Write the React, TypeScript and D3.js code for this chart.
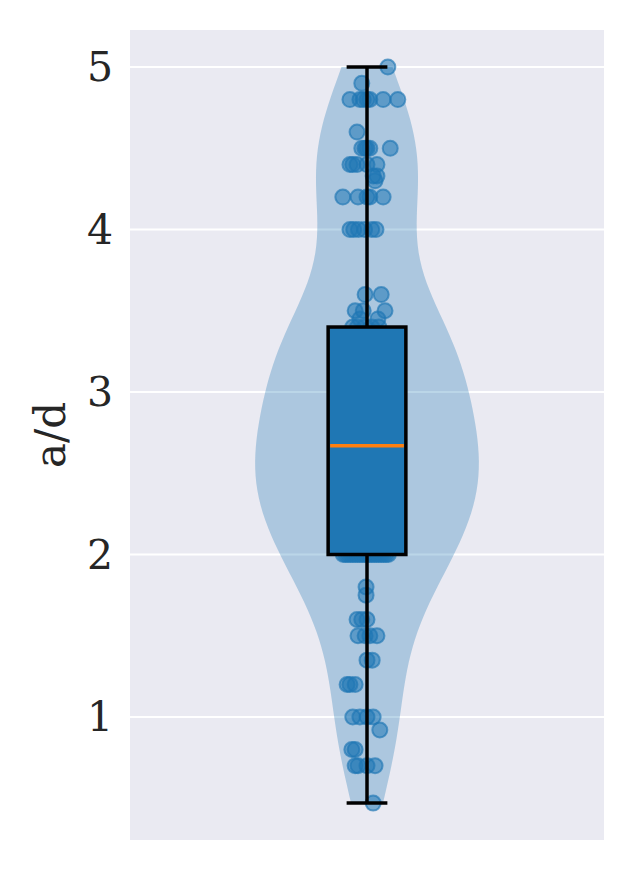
import React from 'react'
import * as d3 from 'd3'

// a/d values, grouped by level; each entry holds the horizontal jitter of every point at that level
const lowPoints: [number, number[]][] = [
  [0.47, [0.013]],
  [0.7, [-0.025, -0.019, 0, 0.017]],
  [0.8, [-0.032, -0.025]],
  [0.92, [0.027]],
  [1.0, [-0.03, -0.015, 0, 0.013]],
  [1.2, [-0.042, -0.036, -0.025]],
  [1.35, [0, 0.011]],
  [1.5, [-0.019, -0.004, 0.006, 0.021]],
  [1.6, [-0.021, -0.011, 0]],
  [1.75, [-0.002]],
  [1.8, [-0.002]]
]

// these sit mostly behind the box
const midPoints: [number, number[]][] = [
  [2.0, [-0.05, -0.045, -0.04, -0.035, -0.03, -0.025, -0.02, -0.015, -0.01, -0.005,
    0, 0.005, 0.01, 0.015, 0.02, 0.025, 0.03, 0.035, 0.04, 0.045]],
  [2.1, [0.01]],
  [2.2, [-0.01, 0.02]],
  [2.25, [-0.025, 0.015]],
  [2.33, [-0.035, -0.01, 0.01, 0.03]],
  [2.4, [-0.035, -0.02, 0, 0.01, 0.02, 0.04]],
  [2.5, [-0.04, -0.032, -0.024, -0.016, -0.008, 0, 0.01, 0.02, 0.03, 0.04]],
  [2.6, [-0.045, -0.036, -0.028, -0.02, -0.012, -0.004, 0.004, 0.012, 0.02, 0.028, 0.036, 0.044]],
  [2.67, [-0.02, 0, 0.015, 0.03]],
  [2.75, [-0.03, 0.028]],
  [2.8, [-0.04, 0.005, 0.036]],
  [2.9, [-0.015, 0.005, 0.025]],
  [3.0, [-0.04, -0.02, 0, 0.02, 0.04]],
  [3.1, [-0.03, -0.015, 0, 0.02, 0.035]],
  [3.2, [-0.04, -0.027, -0.014, 0, 0.012, 0.025, 0.038]],
  [3.25, [-0.03, -0.015, 0, 0.015, 0.03]],
  [3.33, [-0.035, -0.018, 0, 0.012, 0.028]],
  [3.4, [-0.03, -0.02, -0.005, 0.01, 0.025]]
]

const highPoints: [number, number[]][] = [
  [3.45, [-0.015, 0.023]],
  [3.5, [-0.025, -0.008, 0.038]],
  [3.6, [-0.004, 0.03]],
  [4.0, [-0.036, -0.028, -0.018, -0.005, 0.01, 0.019]],
  [4.2, [-0.051, -0.019, 0, 0.006, 0.034]],
  [4.3, [0.017]],
  [4.33, [0.013, 0.021]],
  [4.4, [-0.036, -0.03, -0.021, 0, 0.021]],
  [4.5, [-0.011, -0.004, 0, 0.006, 0.049]],
  [4.6, [-0.021]],
  [4.8, [-0.036, -0.015, -0.008, 0, 0.006, 0.034, 0.065]],
  [4.9, [-0.011]],
  [5.0, [0.044]]
]

const yTicks = [1, 2, 3, 4, 5]
const yLabel = 'a/d'

const width = 634
const height = 870
const margin = { top: 30, right: 30, bottom: 30, left: 130 }
const font = '"DejaVu Serif", serif'
const blue = '#1f77b4'

const points = [...lowPoints, ...midPoints, ...highPoints].flatMap(([v, js]) =>
  js.map((j) => ({ value: v, jitter: j }))
)
const values = points.map((p) => p.value).sort(d3.ascending)

const App = () => {
  const x = d3.scaleLinear().domain([0.5, 1.5]).range([margin.left, width - margin.right])
  const y = d3.scaleLinear().domain([0.243, 5.228]).range([height - margin.bottom, margin.top])

  // gaussian kde with Scott's bandwidth, as matplotlib's violinplot
  const n = values.length
  const bw = Math.pow(n, -1 / 5) * (d3.deviation(values) as number)
  const lo = values[0]
  const hi = values[n - 1]
  const grid = d3.range(100).map((i) => lo + (i * (hi - lo)) / 99)
  const dens = grid.map((g) =>
    d3.sum(values, (v) => Math.exp(-0.5 * ((g - v) / bw) ** 2))
  )
  const maxD = d3.max(dens) as number
  const half = 0.236
  const violin = d3.area<number>()
    .y((_, i) => y(grid[i]))
    .x0((_, i) => x(1 - (dens[i] / maxD) * half))
    .x1((_, i) => x(1 + (dens[i] / maxD) * half))
    .curve(d3.curveLinear)

  const q1 = d3.quantile(values, 0.25) as number
  const med = d3.quantile(values, 0.5) as number
  const q3 = d3.quantile(values, 0.75) as number
  const iqr = q3 - q1
  const wLo = d3.min(values.filter((v) => v >= q1 - 1.5 * iqr)) as number
  const wHi = d3.max(values.filter((v) => v <= q3 + 1.5 * iqr)) as number
  const boxHalf = 0.082
  const capHalf = 0.043

  const [x0, x1] = x.range()
  const [y1, y0] = y.range()

  return (
    <svg width={width} height={height} style={{ display: 'block', marginTop: -8, marginLeft: -8 }}>
      <rect x={0} y={0} width={width} height={height} fill='white' />
      <rect x={x0} y={y0} width={x1 - x0} height={y1 - y0} fill='#eaeaf2' />
      {yTicks.map((t) => (
        <g key={t}>
          <line x1={x0} x2={x1} y1={y(t)} y2={y(t)} stroke='white' strokeWidth={2} />
          <text x={x0 - 17} y={y(t)} textAnchor='end' dominantBaseline='central'
            fontFamily={font} fontSize={41} fill='#262626'>{t}</text>
        </g>
      ))}
      <text transform={`translate(50,${(y0 + y1) / 2}) rotate(-90)`} textAnchor='middle'
        dominantBaseline='central' fontFamily={font} fontSize={42} fill='#262626'>{yLabel}</text>
      <path d={violin(grid) as string} fill={blue} fillOpacity={0.3} />
      {points.map((p, i) => (
        <circle key={i} cx={x(1 + p.jitter)} cy={y(p.value)} r={7.5}
          fill={blue} fillOpacity={0.55} stroke={blue} strokeOpacity={0.65} strokeWidth={2} />
      ))}
      <line x1={x(1)} x2={x(1)} y1={y(wLo)} y2={y(q1)} stroke='black' strokeWidth={3.5} />
      <line x1={x(1)} x2={x(1)} y1={y(q3)} y2={y(wHi)} stroke='black' strokeWidth={3.5} />
      <line x1={x(1 - capHalf)} x2={x(1 + capHalf)} y1={y(wLo)} y2={y(wLo)} stroke='black' strokeWidth={3.5} />
      <line x1={x(1 - capHalf)} x2={x(1 + capHalf)} y1={y(wHi)} y2={y(wHi)} stroke='black' strokeWidth={3.5} />
      <rect x={x(1 - boxHalf)} y={y(q3)} width={x(1 + boxHalf) - x(1 - boxHalf)} height={y(q1) - y(q3)}
        fill={blue} stroke='black' strokeWidth={3.5} />
      <line x1={x(1 - boxHalf) + 2} x2={x(1 + boxHalf) - 2} y1={y(med)} y2={y(med)} stroke='#ff7f0e' strokeWidth={3.5} />
    </svg>
  )
}

export default App
